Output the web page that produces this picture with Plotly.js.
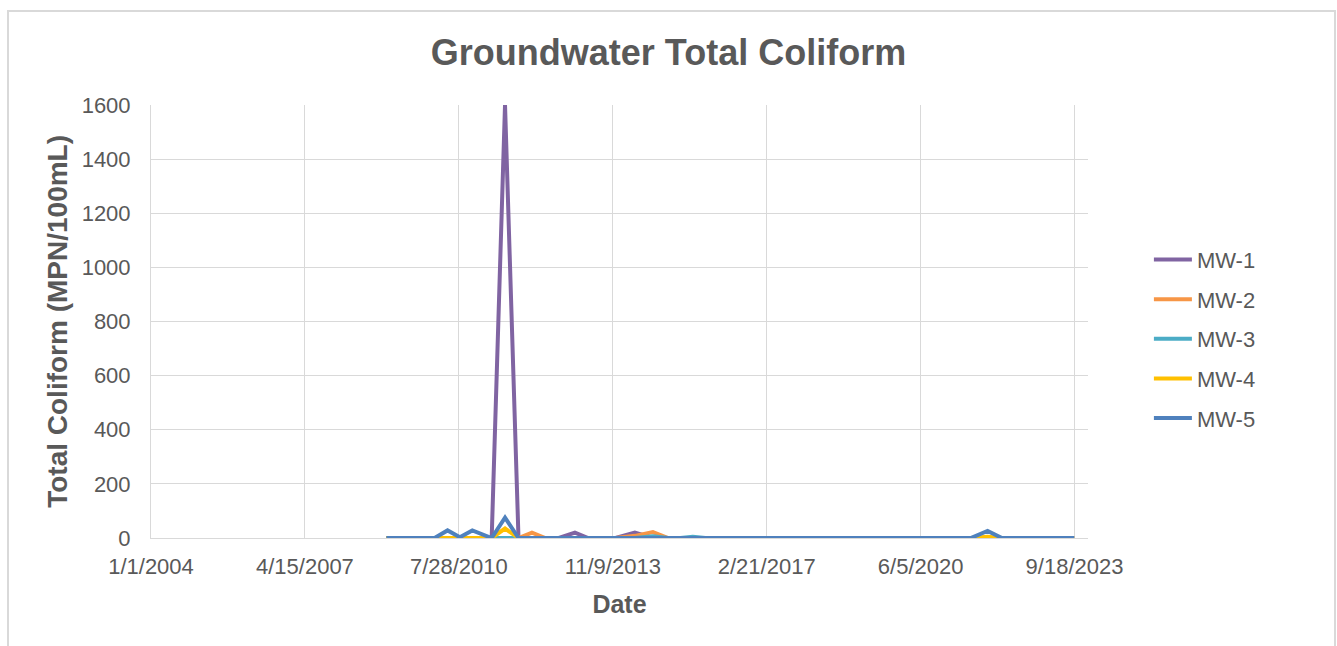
<!DOCTYPE html>
<html>
<head>
<meta charset="utf-8">
<script src="https://cdn.plot.ly/plotly-3.0.1.min.js"></script>
<style>
  html, body { margin: 0; padding: 0; background: #ffffff; }
  #wrap { position: relative; width: 1337px; height: 646px; overflow: hidden; }
  #chart { position: absolute; left: 0; top: 0; width: 1337px; height: 646px; }
  #frame { position: absolute; left: 7px; top: 10px; width: 1325px; height: 660px;
           border: 2px solid #d9d9d9; pointer-events: none; }
</style>
</head>
<body>
<div id="wrap">
  <div id="chart"></div>
  <div id="frame"></div>
</div>
<script>
// Sampling dates (shared by all wells)
const sampleDates = [
  '2009-01-10','2009-04-15','2009-07-15','2009-10-15','2010-01-20',
  '2010-05-01','2010-08-05','2010-11-10','2011-04-10','2011-07-23',
  '2011-11-05','2012-02-18','2012-06-01','2012-09-15','2013-01-18',
  '2013-05-01','2013-08-15','2013-12-01','2014-04-30','2014-09-18',
  '2015-01-15','2015-04-20','2015-07-26','2015-11-01','2016-03-01',
  '2016-07-01','2016-11-01','2017-03-01','2017-07-01','2017-11-01',
  '2018-03-01','2018-07-01','2018-11-01','2019-03-01','2019-07-01',
  '2019-11-01','2020-03-01','2020-07-01','2020-11-01','2021-03-01',
  '2021-07-01','2021-11-09','2022-03-01','2022-07-01','2022-11-01',
  '2023-03-01','2023-09-15'
];

const mw1 = [0,0,0,0,0, 0,0,0,0,1600, 0,0,0,0,20, 0,0,0,20,0, 0,0,0,0,0, 0,0,0,0,0, 0,0,0,0,0, 0,0,0,0,0, 0,0,0,0,0, 0,0];
const mw2 = [0,0,0,0,0, 0,0,0,0,0, 0,20,0,0,0, 0,0,0,8,22, 0,0,0,0,0, 0,0,0,0,0, 0,0,0,0,0, 0,0,0,0,0, 0,0,0,0,0, 0,0];
const mw3 = [0,0,0,0,0, 0,0,0,0,0, 0,0,0,0,0, 0,0,0,0,6, 0,0,5,0,0, 0,0,0,0,0, 0,0,0,0,0, 0,0,0,0,0, 0,0,0,0,0, 0,0];
const mw4 = [0,0,0,0,0, 0,0,0,0,35, 0,0,0,0,0, 0,0,0,0,0, 0,0,0,0,0, 0,0,0,0,0, 0,0,0,0,0, 0,0,0,0,0, 0,5,0,0,0, 0,0];
const mw5 = [0,0,0,0,0, 28,3,28,0,75, 0,0,0,0,0, 0,0,0,0,0, 0,0,0,0,0, 0,0,0,0,0, 0,0,0,0,0, 0,0,0,0,0, 0,26,0,0,0, 0,0];

const seriesNames = ['MW-1','MW-2','MW-3','MW-4','MW-5'];
const seriesValues = [mw1, mw2, mw3, mw4, mw5];
const seriesColors = ['#8064A2','#F79646','#4BACC6','#FFC000','#4F81BD'];

const tickDates = ['2004-01-01','2007-04-15','2010-07-28','2013-11-09','2017-02-21','2020-06-05','2023-09-18'];
const tickLabels = ['1/1/2004','4/15/2007','7/28/2010','11/9/2013','2/21/2017','6/5/2020','9/18/2023'];
const yTicks = [0,200,400,600,800,1000,1200,1400,1600];

const chartTitle = 'Groundwater Total Coliform';
const xTitle = 'Date';
const yTitle = 'Total Coliform (MPN/100mL)';

const FONT = 'Liberation Sans, Arial, sans-serif';
const TXT = '#595959';

const traces = seriesNames.map((n, i) => ({
  type: 'scatter',
  mode: 'lines',
  name: n,
  x: sampleDates,
  y: seriesValues[i],
  legendgroup: n,
  line: { color: seriesColors[i], width: 4 },
  hoverinfo: 'x+y+name'
}));

const layout = {
  width: 1337, height: 646,
  paper_bgcolor: 'rgba(0,0,0,0)',
  plot_bgcolor: '#ffffff',
  margin: { l: 151, r: 249, t: 105, b: 108 },
  font: { family: FONT, color: TXT, size: 22 },
  title: {
    text: '<b>' + chartTitle + '</b>',
    font: { family: FONT, size: 36, color: TXT },
    x: 0.5, xref: 'container', xanchor: 'center',
    y: 52, yref: 'container', yanchor: 'middle'
  },
  xaxis: {
    type: 'date',
    range: ['2004-01-01', '2024-01-01'],
    tickmode: 'array',
    tickvals: tickDates,
    ticktext: tickLabels,
    showgrid: true,
    gridcolor: '#d9d9d9',
    gridwidth: 1,
    showline: true,
    linecolor: '#d9d9d9',
    linewidth: 1,
    ticks: '',
    ticklabelstandoff: 9,
    tickfont: { family: FONT, size: 22, color: TXT },
    zeroline: false,
    title: { text: '<b>' + xTitle + '</b>', font: { family: FONT, size: 25, color: TXT }, standoff: 17 }
  },
  yaxis: {
    range: [0, 1600],
    tickmode: 'array',
    tickvals: yTicks,
    showgrid: true,
    gridcolor: '#d9d9d9',
    gridwidth: 1,
    showline: true,
    linecolor: '#d9d9d9',
    linewidth: 1,
    ticks: '',
    ticklabelstandoff: 15,
    tickfont: { family: FONT, size: 22, color: TXT },
    zeroline: false
  },
  annotations: [{
    text: '<b>' + yTitle + '</b>',
    textangle: -90,
    xref: 'paper', yref: 'paper',
    x: -0.1, y: 0.5,
    xanchor: 'center', yanchor: 'middle',
    showarrow: false,
    font: { family: FONT, size: 28, color: TXT }
  }],
  legend: {
    x: 0.065 + 1, xanchor: 'left',
    y: 0.46, yanchor: 'middle',
    font: { family: FONT, size: 22, color: TXT },
    traceorder: 'grouped',
    tracegroupgap: 8,
    itemwidth: 38,
    bgcolor: 'rgba(0,0,0,0)'
  },
  showlegend: true
};

Plotly.newPlot('chart', traces, layout, { displayModeBar: false, staticPlot: true });
</script>
</body>
</html>
